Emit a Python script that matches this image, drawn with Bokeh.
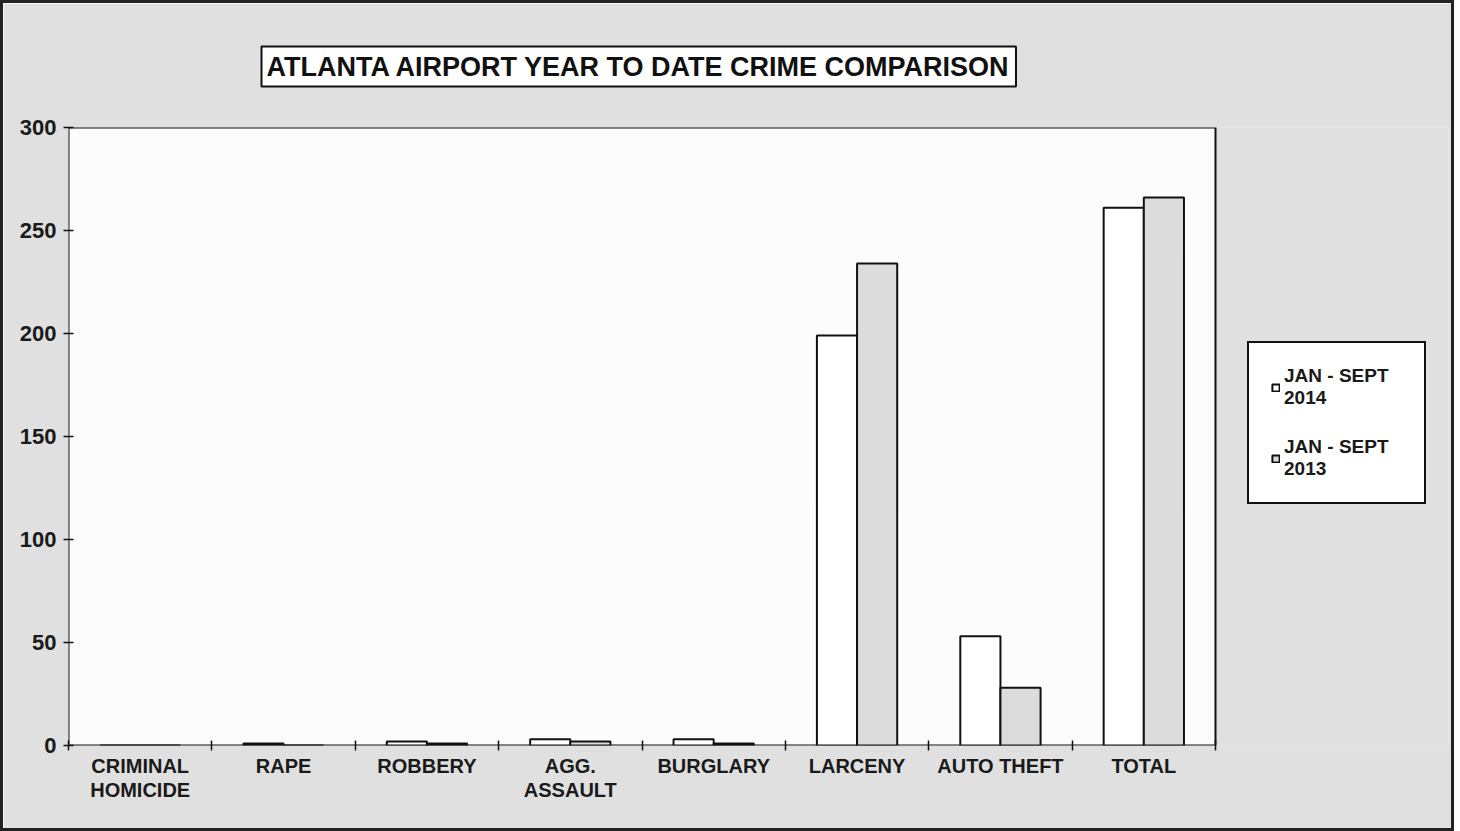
from bokeh.plotting import figure
from bokeh.models import (ColumnDataSource, FixedTicker, Range1d, Legend, LegendItem, Title,
                          BoxAnnotation)
from bokeh.embed import file_html
from bokeh.resources import INLINE

categories = ["CRIMINAL\nHOMICIDE", "RAPE", "ROBBERY", "AGG.\nASSAULT", "BURGLARY",
              "LARCENY", "AUTO THEFT", "TOTAL"]
jan_sept_2014 = [0, 1, 2, 3, 3, 199, 53, 261]
jan_sept_2013 = [0, 0, 1, 2, 1, 234, 28, 266]
y_ticks = [0, 50, 100, 150, 200, 250, 300]

FONT = "Liberation Sans"
n = len(categories)
centers = [i + 0.5 for i in range(n)]
bw = 0.28

# plot box is 1147 px wide inside a 1380 px frame (the rest holds the legend)
PLOT_PX, FRAME_PX = 1147, 1380
x_end = n * FRAME_PX / PLOT_PX

p = figure(frame_width=FRAME_PX, frame_height=618, output_backend="svg", toolbar_location=None,
           x_range=Range1d(0, x_end), y_range=Range1d(0, 300),
           min_border_left=65, min_border_right=3, min_border_top=124, min_border_bottom=83)
p.background_fill_color = "#e0e0e0"
p.border_fill_color = "#e0e0e0"
p.outline_line_color = None
p.grid.visible = False
p.styles = {"border": "3px solid #222222", "box-sizing": "content-box"}

p.add_layout(BoxAnnotation(left=0, right=n, bottom=0, top=300, fill_color="#fcfcfc",
                           fill_alpha=1.0, line_color="#111111", line_alpha=1.0, line_width=2,
                           level="underlay"))

src = ColumnDataSource(dict(x14=[c - bw / 2 for c in centers], x13=[c + bw / 2 for c in centers],
                            v14=jan_sept_2014, v13=jan_sept_2013))
r14 = p.vbar(x="x14", top="v14", bottom=0, width=bw, source=src,
             fill_color="#ffffff", line_color="#111111", line_width=2)
r13 = p.vbar(x="x13", top="v13", bottom=0, width=bw, source=src,
             fill_color="#dcdcdc", line_color="#111111", line_width=2)

xa = p.xaxis[0]
xa.ticker = FixedTicker(ticks=centers, minor_ticks=list(range(n + 1)))
xa.major_label_overrides = {c: lab for c, lab in zip(centers, categories)}
xa.major_tick_line_color = None
xa.minor_tick_line_color = "#111111"
xa.minor_tick_line_width = 1.5
xa.minor_tick_in = 5
xa.minor_tick_out = 5
xa.axis_line_color = None
xa.major_label_text_font = FONT
xa.major_label_text_font_size = "20px"
xa.major_label_text_font_style = "bold"
xa.major_label_text_color = "#1a1a1a"
xa.major_label_text_line_height = 1.1
xa.major_label_standoff = 3

ya = p.yaxis[0]
ya.ticker = FixedTicker(ticks=y_ticks, minor_ticks=[])
ya.major_tick_in = 5
ya.major_tick_out = 5
ya.axis_line_color = None
ya.major_tick_line_color = "#111111"
ya.major_tick_line_width = 1.5
ya.major_label_text_font = FONT
ya.major_label_text_font_size = "22px"
ya.major_label_text_font_style = "bold"
ya.major_label_text_color = "#1a1a1a"
ya.major_label_standoff = 7

title = Title(text="ATLANTA AIRPORT YEAR TO DATE CRIME COMPARISON", align="left",
              text_font=FONT, text_font_size="27px", text_font_style="bold",
              text_color="#111111", border_line_color="#111111", border_line_alpha=1.0,
              border_line_width=2, background_fill_color="#ffffff", padding=5,
              offset=193, standoff=82)
p.add_layout(title, "above")

legend = Legend(items=[LegendItem(label="JAN - SEPT\n2014", renderers=[r14]),
                       LegendItem(label="JAN - SEPT\n2013", renderers=[r13])],
                location=(1179, 241), orientation="vertical",
                label_text_font=FONT, label_text_font_size="19px", label_text_font_style="bold",
                label_text_color="#1a1a1a", label_text_line_height=1.2, label_width=118,
                glyph_width=9, glyph_height=9, label_standoff=4, spacing=27,
                padding=22, margin=0, border_line_color="#111111", border_line_alpha=1.0,
                border_line_width=2,
                background_fill_color="#ffffff", background_fill_alpha=1.0)
p.add_layout(legend, "center")

open("out.html", "w").write(file_html(p, INLINE))
